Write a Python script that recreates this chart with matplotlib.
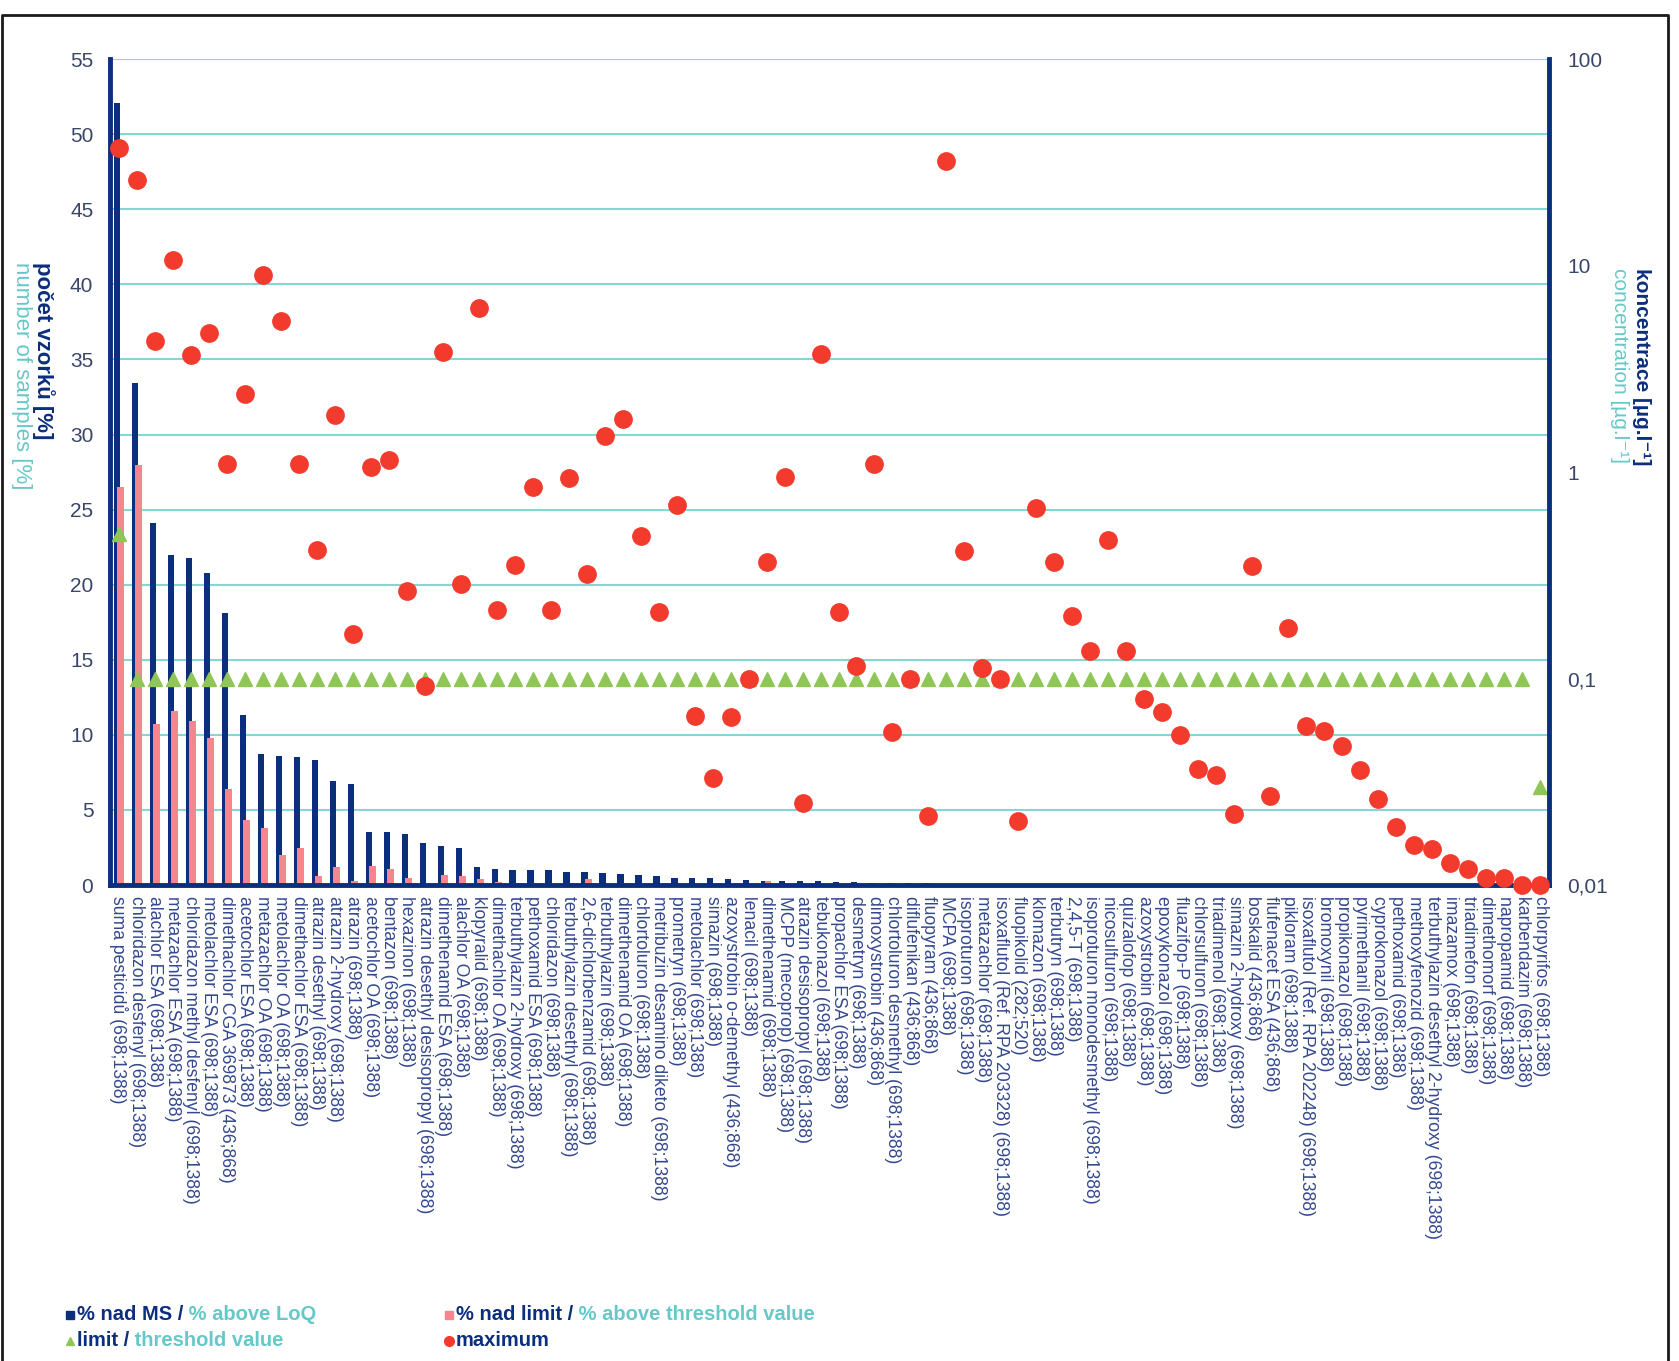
import numpy as np
import matplotlib.pyplot as plt
from matplotlib.lines import Line2D
from matplotlib.ticker import NullLocator

# pesticide names with numbers of samples (positive; total)
labels = [
    "suma pesticidů (698;1388)",
    "chloridazon desfenyl (698;1388)",
    "alachlor ESA (698;1388)",
    "metazachlor ESA (698;1388)",
    "chloridazon methyl desfenyl (698;1388)",
    "metolachlor ESA (698;1388)",
    "dimethachlor CGA 369873 (436;868)",
    "acetochlor ESA (698;1388)",
    "metazachlor OA (698;1388)",
    "metolachlor OA (698;1388)",
    "dimethachlor ESA (698;1388)",
    "atrazin desethyl (698;1388)",
    "atrazin 2-hydroxy (698;1388)",
    "atrazin (698;1388)",
    "acetochlor OA (698;1388)",
    "bentazon (698;1388)",
    "hexazinon (698;1388)",
    "atrazin desethyl desisopropyl (698;1388)",
    "dimethenamid ESA (698;1388)",
    "alachlor OA (698;1388)",
    "klopyralid (698;1388)",
    "dimethachlor OA (698;1388)",
    "terbuthylazin 2-hydroxy (698;1388)",
    "pethoxamid ESA (698;1388)",
    "chloridazon (698;1388)",
    "terbuthylazin desethyl (698;1388)",
    "2,6-dichlorbenzamid (698;1388)",
    "terbuthylazin (698;1388)",
    "dimethenamid OA (698;1388)",
    "chlortoluron (698;1388)",
    "metribuzin desamino diketo (698;1388)",
    "prometryn (698;1388)",
    "metolachlor (698;1388)",
    "simazin (698;1388)",
    "azoxystrobin o-demethyl (436;868)",
    "lenacil (698;1388)",
    "dimethenamid (698;1388)",
    "MCPP (mecoprop) (698;1388)",
    "atrazin desisopropyl (698;1388)",
    "tebukonazol (698;1388)",
    "propachlor ESA (698;1388)",
    "desmetryn (698;1388)",
    "dimoxystrobin (436;868)",
    "chlortoluron desmethyl (698;1388)",
    "diflufenikan (436;868)",
    "fluopyram (436;868)",
    "MCPA (698;1388)",
    "isoproturon (698;1388)",
    "metazachlor (698;1388)",
    "isoxaflutol (Ref. RPA 203328) (698;1388)",
    "fluopikolid (282;520)",
    "klomazon (698;1388)",
    "terbutryn (698;1388)",
    "2,4,5-T (698;1388)",
    "isoproturon monodesmethyl (698;1388)",
    "nicosulfuron (698;1388)",
    "quizalofop (698;1388)",
    "azoxystrobin (698;1388)",
    "epoxykonazol (698;1388)",
    "fluazifop-P (698;1388)",
    "chlorsulfuron (698;1388)",
    "triadimenol (698;1388)",
    "simazin 2-hydroxy (698;1388)",
    "boskalid (436;868)",
    "flufenacet ESA (436;868)",
    "pikloram (698;1388)",
    "isoxaflutol (Ref. RPA 202248) (698;1388)",
    "bromoxynil (698;1388)",
    "propikonazol (698;1388)",
    "pyrimethanil (698;1388)",
    "cyprokonazol (698;1388)",
    "pethoxamid (698;1388)",
    "methoxyfenozid (698;1388)",
    "terbuthylazin desethyl 2-hydroxy (698;1388)",
    "imazamox (698;1388)",
    "triadimefon (698;1388)",
    "dimethomorf (698;1388)",
    "napropamid (698;1388)",
    "karbendazim (698;1388)",
    "chlorpyrifos (698;1388)",
]

# % of samples above LoQ
nad_ms = [
    52.1, 33.4, 24.1, 22.0, 21.8, 20.8, 18.1, 11.3, 8.7, 8.6,
    8.5, 8.3, 6.9, 6.7, 3.5, 3.5, 3.4, 2.8, 2.6, 2.5,
    1.2, 1.1, 1.0, 1.0, 1.0, 0.9, 0.85, 0.8, 0.75, 0.7,
    0.6, 0.5, 0.5, 0.45, 0.4, 0.35, 0.3, 0.3, 0.25, 0.25,
    0.2, 0.2, 0.15, 0.15, 0.12, 0.12, 0.1, 0.1, 0.1, 0.1,
    0.1, 0.07, 0.07, 0.07, 0.07, 0.07, 0.07, 0.07, 0.07, 0.07,
    0.07, 0.07, 0.07, 0.07, 0.07, 0.07, 0.07, 0.07, 0.07, 0.07,
    0.07, 0.07, 0.07, 0.07, 0.07, 0.07, 0.07, 0.07, 0.07, 0.07,
]

# % of samples above threshold value
nad_limit = [
    26.5, 28.0, 10.7, 11.6, 10.9, 9.8, 6.4, 4.3, 3.8, 2.0,
    2.5, 0.6, 1.2, 0.3, 1.3, 1.1, 0.5, 0.0, 0.7, 0.6,
    0.4, 0.2, 0.15, 0.15, 0.1, 0.15, 0.4, 0.1, 0.15, 0.1,
    0.1, 0.1, 0.0, 0.0, 0.0, 0.0, 0.3, 0.07, 0.0, 0.07,
    0.07, 0.07, 0.07, 0.0, 0.0, 0.0, 0.07, 0.07, 0.07, 0.0,
    0.0, 0.07, 0.07, 0.07, 0.07, 0.07, 0.07, 0.0, 0.0, 0.0,
    0.0, 0.0, 0.0, 0.07, 0.0, 0.07, 0.0, 0.0, 0.0, 0.0,
    0.0, 0.0, 0.0, 0.0, 0.0, 0.0, 0.0, 0.0, 0.0, 0.0,
]

# threshold value [ug/l]
limits = [
    0.5, 0.1, 0.1, 0.1, 0.1, 0.1, 0.1, 0.1, 0.1, 0.1,
    0.1, 0.1, 0.1, 0.1, 0.1, 0.1, 0.1, 0.1, 0.1, 0.1,
    0.1, 0.1, 0.1, 0.1, 0.1, 0.1, 0.1, 0.1, 0.1, 0.1,
    0.1, 0.1, 0.1, 0.1, 0.1, 0.1, 0.1, 0.1, 0.1, 0.1,
    0.1, 0.1, 0.1, 0.1, 0.1, 0.1, 0.1, 0.1, 0.1, 0.1,
    0.1, 0.1, 0.1, 0.1, 0.1, 0.1, 0.1, 0.1, 0.1, 0.1,
    0.1, 0.1, 0.1, 0.1, 0.1, 0.1, 0.1, 0.1, 0.1, 0.1,
    0.1, 0.1, 0.1, 0.1, 0.1, 0.1, 0.1, 0.1, 0.1, 0.03,
]

# maximum concentration [ug/l]
maxima = [
    37, 26, 4.3, 10.6, 3.7, 4.7, 1.1, 2.4, 9.0, 5.4,
    1.1, 0.42, 1.9, 0.165, 1.06, 1.15, 0.265, 0.092, 3.8, 0.286,
    6.2, 0.214, 0.355, 0.85, 0.214, 0.935, 0.32, 1.5, 1.8, 0.49,
    0.21, 0.69, 0.066, 0.033, 0.065, 0.1, 0.365, 0.95, 0.025, 3.75,
    0.21, 0.115, 1.1, 0.055, 0.1, 0.0215, 32, 0.415, 0.112, 0.1,
    0.0205, 0.67, 0.365, 0.2, 0.136, 0.47, 0.136, 0.08, 0.069, 0.053,
    0.0364, 0.0342, 0.022, 0.35, 0.027, 0.175, 0.059, 0.056, 0.047, 0.036,
    0.026, 0.019, 0.0157, 0.0149, 0.0128, 0.0119, 0.0108, 0.0108, 0.01, 0.01,
]

navy = '#0b2e7d'
pink = '#f4868f'
green = '#8fc657'
red = '#f23b2c'
turq = '#66c8c8'
grid_c = '#86d6d6'
tick_c = '#3a4668'
lab_c = '#34488f'

fam = ['Liberation Sans', 'DejaVu Sans']
plt.rcParams['font.family'] = fam

fig = plt.figure(figsize=(16.79, 13.61), dpi=100)
ax = fig.add_axes([0.0655, 0.3497, 0.8571, 0.6069])

x = np.arange(len(labels))
ax.bar(x - 0.12, nad_ms, width=0.34, color=navy, zorder=2)
ax.bar(x + 0.09, nad_limit, width=0.36, color=pink, zorder=3)

ax.set_xlim(-0.5, len(labels) - 0.5)
ax.set_ylim(0, 55)
ax.set_yticks(range(0, 56, 5))
ax.yaxis.grid(True, color=grid_c, lw=1.5)
ax.set_axisbelow(True)
ax.tick_params(axis='y', length=0, pad=12, labelsize=15, labelcolor=tick_c)
ax.set_xticks(x)
ax.set_xticklabels(labels, rotation=-90, ha='center', va='top', fontsize=12.7, color=lab_c)
ax.tick_params(axis='x', length=0, pad=8)

ax.spines['top'].set_visible(False)
ax.spines['right'].set_visible(False)
for s in ['left', 'bottom']:
    ax.spines[s].set_color(navy)
    ax.spines[s].set_linewidth(3.5)
    ax.spines[s].set_zorder(5)

# concentration axis
ax2 = ax.twinx()
ax2.set_yscale('log')
ax2.set_ylim(0.01, 100)
ax2.set_yticks([0.01, 0.1, 1, 10, 100])
ax2.set_yticklabels(['0,01', '0,1', '1', '10', '100'])
ax2.yaxis.set_minor_locator(NullLocator())
ax2.tick_params(axis='y', length=0, pad=13, labelsize=15, labelcolor=tick_c)
for s in ['top', 'left', 'bottom']:
    ax2.spines[s].set_visible(False)
ax2.spines['right'].set_color(navy)
ax2.spines['right'].set_linewidth(3.5)

ax2.plot(x, limits, ls='none', marker='^', color=green, ms=10, clip_on=False)
ax2.plot(x, maxima, ls='none', marker='o', color=red, ms=12.5, clip_on=False, zorder=4)

# axis titles
fig.text(43 / 1679, 1 - 262 / 1361, 'počet vzorků [%]', rotation=-90, ha='center', va='top',
         color=navy, fontsize=16, fontweight='bold')
fig.text(21 / 1679, 1 - 262 / 1361, 'number of samples [%]', rotation=-90, ha='center', va='top',
         color=turq, fontsize=16)
fig.text(1642 / 1679, 1 - 268 / 1361, 'koncentrace [µg.l⁻¹]', rotation=-90, ha='center', va='top',
         color=navy, fontsize=15, fontweight='bold')
fig.text(1619 / 1679, 1 - 268 / 1361, 'concentration [µg.l⁻¹]', rotation=-90, ha='center', va='top',
         color=turq, fontsize=15)

# legend
def legend_item(xm, y, marker, color, ms, first, second):
    fig.add_artist(Line2D([xm / 1679], [y], transform=fig.transFigure, ls='none',
                          marker=marker, color=color, ms=ms))
    t1 = fig.text((xm + 7) / 1679, y, first, va='center', ha='left', color=navy,
                  fontsize=14.5, fontweight='bold')
    if second:
        ax.annotate(second, xy=(1, 0), xycoords=t1, va='bottom', ha='left', color=turq,
                    fontsize=14.5, fontweight='bold', annotation_clip=False)

row1 = 1 - 1315 / 1361
row2 = 1 - 1341 / 1361
legend_item(70, row1, 's', navy, 6, '% nad MS /', ' % above LoQ')
legend_item(449, row1, 's', pink, 6, '% nad limit /', ' % above threshold value')
legend_item(70, row2, '^', green, 6, 'limit /', ' threshold value')
legend_item(449, row2, 'o', red, 7, 'maximum', '')

# outer frame
fig.add_artist(Line2D([0.001, 0.001, 0.9935, 0.9935], [0, 0.989, 0.989, 0],
                      transform=fig.transFigure, color='#1a1a1a', lw=2))

fig.savefig('out.png', dpi=100)
